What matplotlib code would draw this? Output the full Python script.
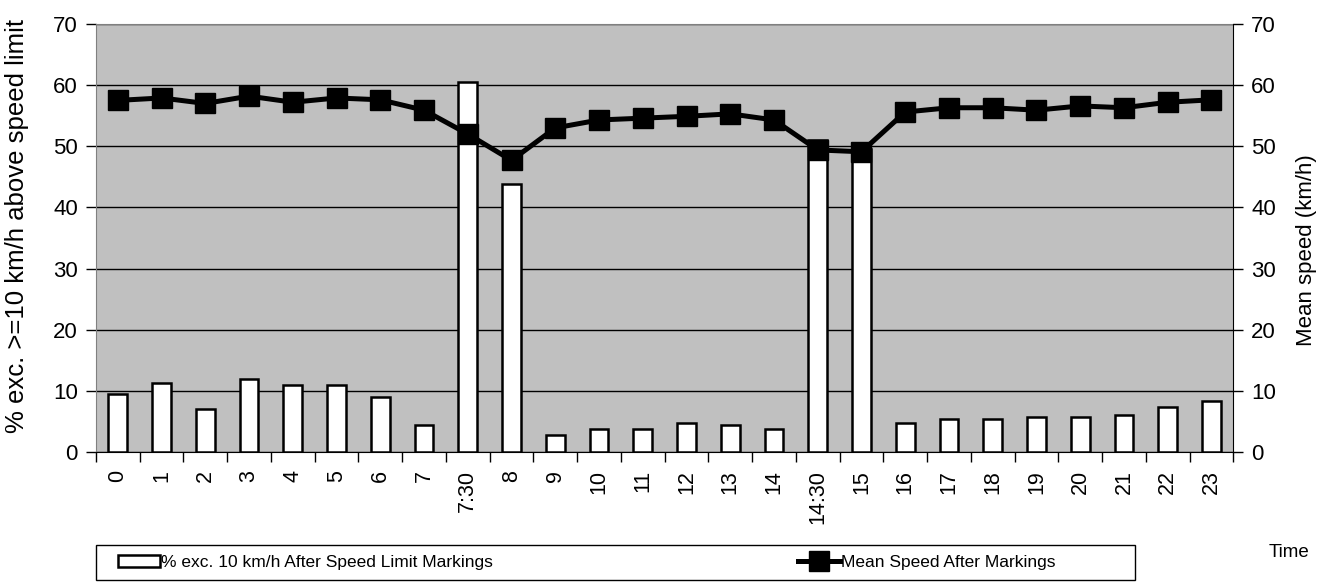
import matplotlib.pyplot as plt
import matplotlib.patches as mpatches
import numpy as np

plt.rcParams['font.family'] = ['Liberation Sans', 'DejaVu Sans']

times = ['0', '1', '2', '3', '4', '5', '6', '7', '7:30', '8', '9', '10', '11',
         '12', '13', '14', '14:30', '15', '16', '17', '18', '19', '20', '21',
         '22', '23']
pct_exceeding = [9.4, 11.3, 7.0, 11.9, 11.0, 11.0, 9.0, 4.4, 60.5, 43.9, 2.8,
                 3.8, 3.8, 4.8, 4.4, 3.8, 51.0, 49.5, 4.7, 5.4, 5.4, 5.7, 5.7,
                 6.1, 7.4, 8.3]
mean_speed = [57.5, 57.9, 57.0, 58.2, 57.2, 57.9, 57.6, 55.9, 52.0, 47.7, 53.0,
              54.3, 54.6, 54.9, 55.3, 54.3, 49.4, 49.1, 55.6, 56.3, 56.3, 55.9,
              56.6, 56.3, 57.2, 57.6]

x = np.arange(len(times))

fig = plt.figure(figsize=(13.29, 5.85), dpi=100)
ax = fig.add_axes([0.0722, 0.2274, 0.8558, 0.7316])
ax.set_facecolor('#C0C0C0')

bars = ax.bar(x, pct_exceeding, width=0.43, color='white', edgecolor='black',
              linewidth=1.8, zorder=3,
              label='% exc. 10 km/h After Speed Limit Markings')

ax.set_xlim(-0.5, len(times) - 0.5)
ax.set_ylim(0, 70)
ax.set_yticks(range(0, 71, 10))
ax.yaxis.grid(True, color='black', linewidth=1.0, zorder=1)
ax.set_axisbelow(True)

# ticks sit between categories, labels at the centres
ax.set_xticks(np.arange(-0.5, len(times), 1.0))
ax.set_xticklabels([])
ax.set_xticks(x, minor=True)
ax.set_xticklabels(times, minor=True, rotation=90, fontsize=15.5)
ax.tick_params(axis='x', which='minor', length=0, pad=13)
ax.tick_params(axis='x', which='major', length=7, width=1, direction='out')
ax.tick_params(axis='y', length=7, width=1, labelsize=16, pad=6)

ax.set_ylabel('% exc. >=10 km/h above speed limit', fontsize=18.5)
ax.yaxis.set_label_coords(-0.059, 0.528)

for side in ['left', 'top']:
    ax.spines[side].set_color('#808080')
ax.spines['bottom'].set_color('black')
ax.spines['right'].set_visible(False)

ax2 = ax.twinx()
line, = ax2.plot(x, mean_speed, color='black', linewidth=3.6, marker='s',
                 markersize=15, zorder=5, label='Mean Speed After Markings')
ax2.set_ylim(0, 70)
ax2.set_yticks(range(0, 71, 10))
ax2.tick_params(axis='y', length=7, width=1, labelsize=16, pad=6)
ax2.set_ylabel('Mean speed (km/h)', fontsize=16)
ax2.yaxis.set_label_coords(1.0555, 0.472)
ax2.spines['right'].set_color('black')
for side in ['left', 'top', 'bottom']:
    ax2.spines[side].set_visible(False)

# legend box drawn as its own rectangle, entries laid inside it
fig.patches.append(mpatches.Rectangle((0.0722, 0.0085), 0.7818, 0.0598,
                                      transform=fig.transFigure, fill=False,
                                      edgecolor='black', linewidth=1.0))
leg = fig.legend([bars, line],
                 ['% exc. 10 km/h After Speed Limit Markings',
                  'Mean Speed After Markings'],
                 loc='center left', ncol=2,
                 bbox_to_anchor=(0.0888, 0.0385), borderaxespad=0,
                 fontsize=12.5, frameon=False, borderpad=0,
                 handlelength=2.4, handletextpad=0.05, columnspacing=17.6)

fig.text(0.985, 0.055, 'Time', fontsize=13.5, ha='right', va='center')

fig.savefig('out.png', dpi=100)
